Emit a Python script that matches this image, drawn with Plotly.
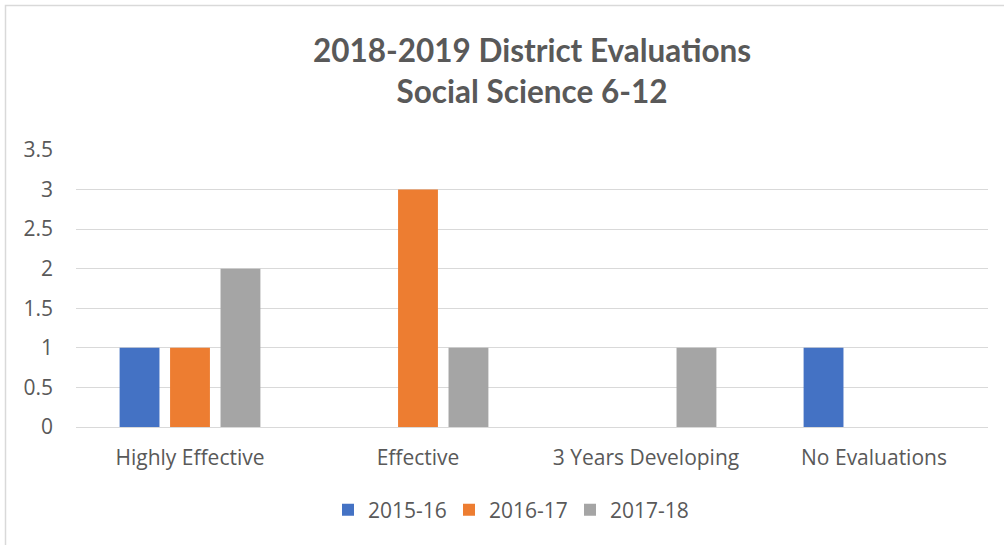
import plotly.graph_objects as go

categories = ["Highly Effective", "Effective", "3 Years Developing", "No Evaluations"]
series_names = ["2015-16", "2016-17", "2017-18"]
values_2015_16 = [1, 0, 0, 1]
values_2016_17 = [1, 3, 0, 0]
values_2017_18 = [2, 1, 1, 0]
colors = ["#4472C4", "#ED7D31", "#A5A5A5"]
title_text = "2018-2019 District Evaluations<br>Social Science 6-12"

title_font = "Lato, sans-serif"
body_font = "Open Sans, sans-serif"
text_color = "#595959"

fig = go.Figure()
for name, vals, col in zip(series_names, [values_2015_16, values_2016_17, values_2017_18], colors):
    fig.add_trace(go.Bar(x=categories, y=vals, name=name, marker=dict(color=col, line=dict(width=0))))

W, H = 1004, 545
L, T = 76, 149.5
R = W - 988
B = H - 427.5
pw, ph = W - L - R, H - T - B

def py(page_y):
    return (T + ph - page_y) / ph

def px(page_x):
    return (page_x - L) / pw

fig.update_layout(
    width=W, height=H,
    margin=dict(l=L, r=R, t=T, b=B, autoexpand=False),
    paper_bgcolor="white", plot_bgcolor="white",
    barmode="group", bargap=0.336, bargroupgap=0.21,
    font=dict(family=body_font, color=text_color, size=21),
    title=dict(text=title_text, x=0.5, xanchor="center", xref="paper",
               y=1 - 62 / H, yanchor="middle",
               font=dict(size=31.5, color=text_color, family=title_font, weight="bold")),
    xaxis=dict(showgrid=False, showline=False, ticks="", ticklabelstandoff=16,
               tickfont=dict(size=21, color=text_color)),
    yaxis=dict(range=[0, 3.5], dtick=0.5, showgrid=True, gridcolor="#D9D9D9", gridwidth=1,
               zeroline=True, zerolinecolor="#D9D9D9", zerolinewidth=1, showline=False,
               ticks="", ticklabelstandoff=22, tickfont=dict(size=21, color=text_color)),
    legend=dict(orientation="h", x=px(328), xanchor="left", y=py(511), yanchor="middle",
                font=dict(size=21, color=text_color), itemwidth=30, traceorder="normal",
                entrywidth=76, entrywidthmode="pixels"),
    showlegend=True,
)

# outer chart border
fig.add_shape(type="rect", xref="paper", yref="paper",
              x0=px(5.5), x1=px(1020), y0=py(560), y1=py(4.5),
              line=dict(color="#D9D9D9", width=1.5), fillcolor="rgba(0,0,0,0)", layer="below")

fig.write_html("out.html", config={"displayModeBar": False},
               post_script="document.body.style.margin='0';")
